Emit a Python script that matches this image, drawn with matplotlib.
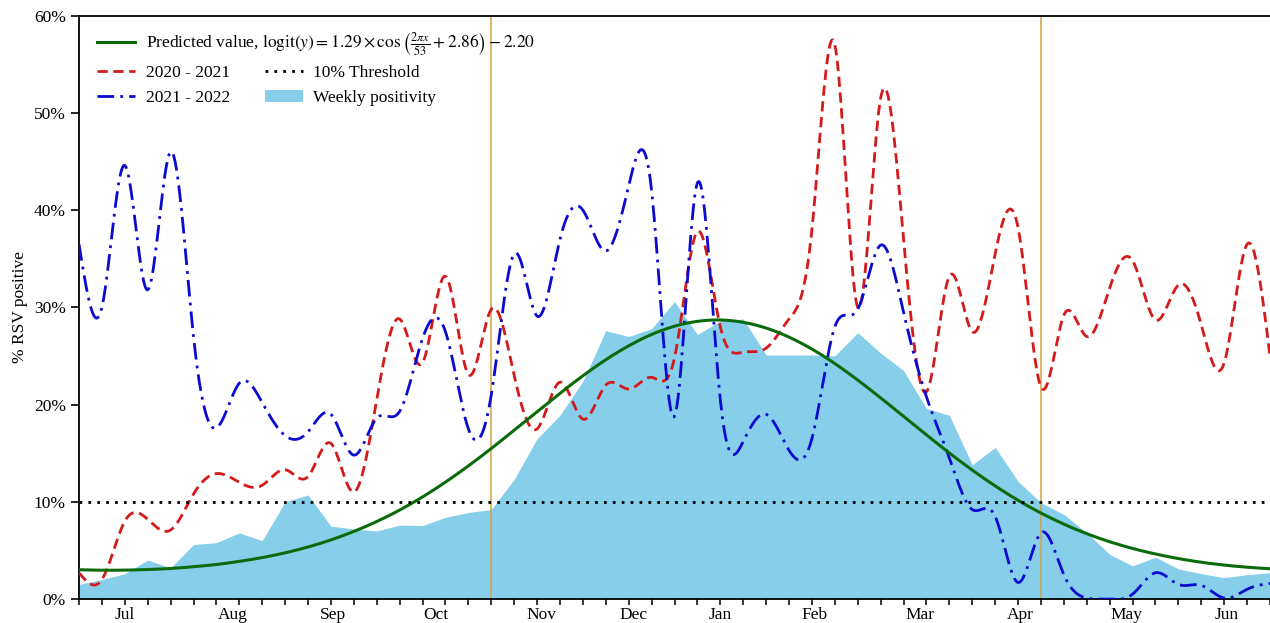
import numpy as np
import matplotlib
matplotlib.use("Agg")
import matplotlib.pyplot as plt
from matplotlib.lines import Line2D
from matplotlib.patches import Patch

# ---------------- data ----------------
weeks = list(range(1, 54))

weekly_positivity = [1.5, 2.0, 2.6, 4.0, 3.2, 5.6, 5.8, 6.8, 6.0, 10.0,
                     10.7, 7.5, 7.2, 7.0, 7.6, 7.55, 8.4, 8.9, 9.2, 12.3,
                     16.5, 18.9, 22.4, 27.6, 27.0, 27.8, 30.6, 27.2, 28.6, 28.8,
                     25.1, 25.1, 25.1, 25.0, 27.4, 25.3, 23.5, 19.6, 18.9, 13.8,
                     15.6, 12.1, 9.9, 8.7, 6.8, 4.6, 3.4, 4.3, 3.1, 2.6,
                     2.2, 2.5, 2.7]

season_2020_2021 = [2.7, 2.0, 8.0, 8.2, 7.1, 10.8, 12.9, 12.0, 11.7, 13.3,
                    12.6, 16.0, 11.0, 20.5, 28.8, 24.3, 33.2, 23.1, 29.8, 23.0,
                    17.5, 22.3, 18.5, 22.0, 21.6, 22.8, 24.8, 37.8, 28.0, 25.4,
                    25.8, 28.8, 38.0, 57.0, 30.0, 51.5, 37.0, 21.3, 33.2, 27.5,
                    35.5, 38.2, 21.8, 29.2, 27.0, 32.0, 34.8, 28.7, 32.3, 28.2,
                    24.3, 36.5, 25.0]

season_2021_2022 = [36.5, 30.0, 44.6, 31.8, 46.0, 27.0, 17.6, 22.2, 20.2, 16.8,
                    17.2, 19.0, 14.8, 18.6, 19.3, 26.8, 27.5, 17.5, 21.0, 35.5,
                    29.1, 37.0, 40.0, 35.8, 42.5, 42.0, 18.8, 42.8, 20.5, 16.2,
                    19.0, 15.3, 16.5, 28.0, 29.8, 36.4, 29.5, 20.8, 14.5, 9.2,
                    8.5, 1.7, 6.8, 2.5, 0.1, 0.0, 0.5, 2.7, 1.5, 1.4,
                    0.1, 1.0, 1.6]

predicted = [3.01, 2.96, 2.97, 3.03, 3.14, 3.32, 3.55, 3.87, 4.26, 4.75,
             5.35, 6.08, 6.95, 7.97, 9.15, 10.50, 12.02, 13.69, 15.48, 17.37,
             19.27, 21.16, 22.96, 24.61, 26.04, 27.21, 28.06, 28.56, 28.70, 28.46,
             27.87, 26.94, 25.71, 24.22, 22.52, 20.69, 18.79, 16.88, 15.02, 13.26,
             11.63, 10.15, 8.84, 7.70, 6.72, 5.89, 5.20, 4.63, 4.16, 3.78,
             3.49, 3.27, 3.11]

threshold = 10
marker_weeks = [19, 43]

month_labels = ["Jul", "Aug", "Sep", "Oct", "Nov", "Dec",
                "Jan", "Feb", "Mar", "Apr", "May", "Jun"]
month_positions = [3.0, 7.7, 12.1, 16.6, 21.2, 25.2, 29.0, 33.1, 37.7, 42.1, 46.75, 51.1]

y_ticks = [0, 10, 20, 30, 40, 50, 60]


def smooth(x, y, n=1200):
    """Natural cubic spline through the weekly values (for drawing)."""
    x = np.asarray(x, float)
    y = np.asarray(y, float)
    m = len(x)
    h = np.diff(x)
    A = np.zeros((m, m))
    b = np.zeros(m)
    A[0, 0] = 1
    A[-1, -1] = 1
    for i in range(1, m - 1):
        A[i, i - 1] = h[i - 1]
        A[i, i] = 2 * (h[i - 1] + h[i])
        A[i, i + 1] = h[i]
        b[i] = 6 * ((y[i + 1] - y[i]) / h[i] - (y[i] - y[i - 1]) / h[i - 1])
    M = np.linalg.solve(A, b)
    xs = np.linspace(x[0], x[-1], n)
    idx = np.clip(np.searchsorted(x, xs) - 1, 0, m - 2)
    x0 = x[idx]
    x1 = x[idx + 1]
    hh = x1 - x0
    t0 = x1 - xs
    t1 = xs - x0
    ys = (M[idx] * t0 ** 3 / (6 * hh) + M[idx + 1] * t1 ** 3 / (6 * hh)
          + (y[idx] / hh - M[idx] * hh / 6) * t0
          + (y[idx + 1] / hh - M[idx + 1] * hh / 6) * t1)
    return xs, ys


# ---------------- style ----------------
plt.rcParams["font.family"] = ["Liberation Serif", "DejaVu Serif"]
plt.rcParams["mathtext.fontset"] = "stix"
FS = 12.5

fig = plt.figure(figsize=(12.7, 6.23), dpi=100)
ax = fig.add_axes([79 / 1270, 24 / 623, 1191 / 1270, 583.3 / 623])

AREA = "#87CEEB"
GREEN = "#0b6b0b"
RED = "#d41a1a"
BLUE = "#0a0ad0"
GOLD = "#d6a23c"

ax.fill_between(weeks, weekly_positivity, 0, color=AREA, lw=0, zorder=1)

xs, ys = smooth(weeks, predicted)
ax.plot(xs, ys, color=GREEN, lw=2.2, zorder=4)

xs, ys = smooth(weeks, season_2020_2021)
ax.plot(xs, ys, color=RED, lw=2.0, ls=(0, (3.7, 2.0)), zorder=3)

xs, ys = smooth(weeks, season_2021_2022)
ax.plot(xs, ys, color=BLUE, lw=2.0, ls=(0, (6.0, 2.2, 1.0, 2.2)), zorder=3)

ax.axhline(threshold, color="black", lw=2.0, ls=(0, (1, 2.2)), zorder=5)
for w in marker_weeks:
    ax.axvline(w, color=GOLD, lw=1.1, zorder=2)

ax.set_xlim(1, 53)
ax.set_ylim(0, 60)

ax.set_yticks(y_ticks)
ax.set_yticklabels([f"{v}%" for v in y_ticks], fontsize=FS)
ax.tick_params(axis="y", length=5.5, width=1.2, pad=4, direction="out")

ax.xaxis.remove_overlapping_locs = False
ax.set_xticks(month_positions)
ax.set_xticklabels(month_labels, fontsize=FS)
ax.set_xticks(weeks, minor=True)
ax.tick_params(axis="x", which="major", length=0, pad=6)
ax.tick_params(axis="x", which="minor", length=4.5, width=1.1, direction="out")

ax.set_ylabel("% RSV positive", fontsize=FS)
ax.yaxis.set_label_coords(-(79 - 28) / 1191, 0.5)

for s in ["left", "bottom", "top"]:
    ax.spines[s].set_linewidth(1.3)
ax.spines["right"].set_visible(False)

# ---------------- legends ----------------
h_pred = Line2D([], [], color=GREEN, lw=2.2)
lab_pred = (r"Predicted value, $\mathrm{logit}(y) = 1.29 \times \cos\left(\frac{2\pi x}{53} + 2.86\right) - 2.20$")
leg1 = ax.legend([h_pred], [lab_pred], loc="center left",
                 bbox_to_anchor=((97 - 79) / 1191, (599 - 45) / 583.3),
                 frameon=False, fontsize=FS, borderpad=0, borderaxespad=0,
                 handlelength=2.2, handletextpad=0.6)
ax.add_artist(leg1)

h_2020 = Line2D([], [], color=RED, lw=2.0, ls=(0, (3.7, 2.0)))
h_2021 = Line2D([], [], color=BLUE, lw=2.0, ls=(0, (6.0, 2.2, 1.0, 2.2)))
h_thr = Line2D([], [], color="black", lw=2.0, ls=(0, (1, 2.2)))
h_area = Patch(facecolor=AREA, edgecolor="none")
ax.legend([h_2020, h_2021, h_thr, h_area],
          ["2020 - 2021", "2021 - 2022", "10% Threshold", "Weekly positivity"],
          ncol=2, loc="center left",
          bbox_to_anchor=((97 - 79) / 1191, (599 - 85.5) / 583.3),
          frameon=False, fontsize=FS, borderpad=0, borderaxespad=0,
          handlelength=2.2, handletextpad=0.6, columnspacing=2.0,
          labelspacing=0.5)

fig.savefig("out.png", dpi=100)
